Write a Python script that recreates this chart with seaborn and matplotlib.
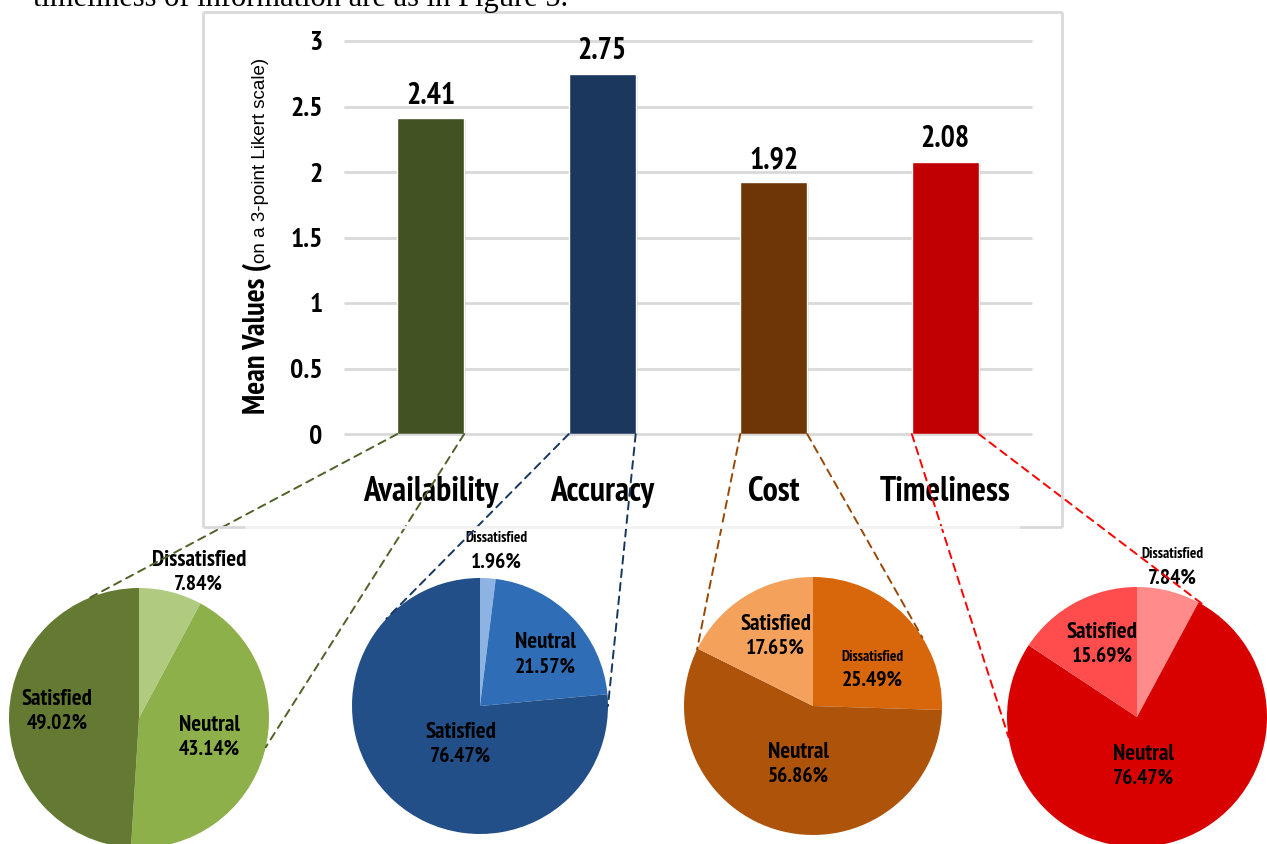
import matplotlib
matplotlib.use("Agg")
import numpy as np
import pandas as pd
import seaborn as sns
import matplotlib.pyplot as plt
import matplotlib.patheffects as pe
from matplotlib import font_manager
from matplotlib.font_manager import FontProperties
from matplotlib.lines import Line2D
from matplotlib.patches import ConnectionPatch

# ---- data -----------------------------------------------------------------
categories = ["Availability", "Accuracy", "Cost", "Timeliness"]
mean_values = [2.41, 2.75, 1.92, 2.08]
y_ticks = [0, 0.5, 1, 1.5, 2, 2.5, 3]
y_tick_labels = ["0", "0.5", "1", "1.5", "2", "2.5", "3"]

levels = ["Dissatisfied", "Neutral", "Satisfied"]
availability_pct = [7.84, 43.14, 49.02]
accuracy_pct = [1.96, 21.57, 76.47]
cost_pct = [25.49, 56.86, 17.65]
timeliness_pct = [7.84, 76.47, 15.69]

# ---- styling --------------------------------------------------------------
bar_colors = ["#435223", "#1B375E", "#6E3507", "#C00000"]
leader_colors = ["#4F6228", "#17375E", "#974806", "#FF0000"]
pie_colors = [
    ["#B0CB80", "#8DB04B", "#647A33"],
    ["#8DB3E2", "#2F6EB6", "#224F88"],
    ["#D8670C", "#AE530A", "#F4A25B"],
    ["#FF8B8B", "#D90000", "#FF4C4C"],
]

sns.set_theme(style="white")
plt.rcParams["font.family"] = ["Liberation Sans", "DejaVu Sans"]
plt.rcParams["text.color"] = "black"
plt.rcParams["xtick.color"] = "black"
plt.rcParams["ytick.color"] = "black"


def _find_narrow_bold():
    """Pick an installed bold, upright, condensed sans face if there is one."""
    best, best_score = None, None
    for f in font_manager.fontManager.ttflist:
        path = f.fname.lower()
        name = f.name.lower()
        if "mono" in name or "serif" in name.replace("sans serif", ""):
            continue
        w = f.weight
        bold = (isinstance(w, (int, float)) and 600 <= w <= 800) or \
               (isinstance(w, str) and w.lower() in ("bold", "demibold", "semibold"))
        if not bold or str(f.style).lower() != "normal":
            continue
        tag = path + " " + name + " " + str(f.stretch).lower()
        if not any(k in tag for k in ("narrow", "condensed", "cond")):
            continue
        score = 0
        if "narrow" in tag:
            score += 5
        if "semicondensed" in tag or "semi" in tag:
            score -= 2
        if "extracondensed" in tag or "extra" in tag or "ultra" in tag:
            score -= 3
        if isinstance(w, (int, float)) and w == 700:
            score += 1
        if best_score is None or score > best_score:
            best, best_score = f.fname, score
    return best


_narrow_path = _find_narrow_bold()
if _narrow_path:
    def nfp(size):
        return FontProperties(fname=_narrow_path, size=size)
else:
    def nfp(size):
        return FontProperties(family="Roboto", weight="bold", size=size * 0.85)


W, H = 1267, 844
fig = plt.figure(figsize=(W / 100, H / 100), dpi=100)
fig.patch.set_facecolor("white")


def fx(px):
    return px / W


def fy(py):
    return 1 - py / H


# running text above the figure
fig.text(fx(33), fy(6), "timeliness of information are as in Figure 5.",
         family="Liberation Serif", fontsize=22, color="black",
         ha="left", va="baseline")

# ---- chart frame ----------------------------------------------------------
frame_c = "#D9D9D9"
for (x0, y0, x1, y1, c) in [
    (203, 12, 1062, 12, frame_c),
    (203, 12, 203, 527, frame_c),
    (1062, 12, 1062, 527, frame_c),
    (203, 527, 245, 527, frame_c),
    (1019, 527, 1062, 527, frame_c),
    (245, 527, 1019, 527, "#F2F2F2"),
]:
    fig.add_artist(Line2D([fx(x0), fx(x1)], [fy(y0), fy(y1)],
                          transform=fig.transFigure, color=c, lw=2,
                          solid_capstyle="butt"))

# ---- bar chart ------------------------------------------------------------
ax = fig.add_axes([fx(345), fy(434), fx(1031) - fx(345), fy(41) - fy(434)])
df = pd.DataFrame({"category": categories, "mean": mean_values})
sns.barplot(data=df, x="category", y="mean", hue="category",
            palette=bar_colors, legend=False, width=0.39, saturation=1,
            errorbar=None, ax=ax)
ax.set_xlim(-0.5, 3.5)
ax.set_ylim(0, 3)
ax.set_yticks(y_ticks)
ax.set_yticklabels(y_tick_labels)
ax.yaxis.grid(True, color="#D9D9D9", linewidth=2)
for gl in ax.get_ygridlines():
    gl.set_clip_on(False)
ax.set_axisbelow(True)
for s in ax.spines.values():
    s.set_visible(False)
ax.set_xlabel("")
ax.set_ylabel("")
ax.tick_params(axis="x", length=0, pad=30)
ax.tick_params(axis="y", length=0, pad=16)
for lab in ax.get_xticklabels():
    lab.set_fontproperties(nfp(24.5))
for lab in ax.get_yticklabels():
    lab.set_fontproperties(nfp(20))

for patch in ax.patches:
    patch.set_path_effects([
        pe.SimplePatchShadow(offset=(1.5, -1.5), shadow_rgbFace="#7F7F7F", alpha=0.2),
        pe.Normal(),
    ])
for cont in ax.containers:
    ax.bar_label(cont, fmt="%.2f", padding=6, fontproperties=nfp(21.5))

# y-axis title: bold lead-in followed by a lighter note
yl_x, yl_y = fx(265), fy(414)
t1 = fig.text(yl_x, yl_y, "Mean Values (", rotation=90, rotation_mode="anchor",
              ha="left", va="baseline", fontproperties=nfp(22))
fig.canvas.draw()
ext = t1.get_window_extent(renderer=fig.canvas.get_renderer())
fig.text(yl_x, yl_y + ext.height / H, "on a 3-point Likert scale)", rotation=90,
         rotation_mode="anchor", ha="left", va="baseline", fontsize=13.5,
         family="Liberation Sans")

# ---- breakdown pies -------------------------------------------------------
pie_data = [availability_pct, accuracy_pct, cost_pct, timeliness_pct]
pie_geom = [(139, 718, 130), (480, 706, 128), (813, 706, 129), (1137, 717, 130)]
# label placement (x, y, word size) per slice, in pie units
label_pos = [
    [(0.46, 1.12, 16.5), (0.54, -0.15, 16.5), (-0.63, 0.05, 16.5)],
    [(0.125, 1.22, 11), (0.51, 0.40, 16.5), (-0.15, -0.30, 16.5)],
    [(0.46, 0.29, 11), (-0.11, -0.45, 16.5), (-0.29, 0.54, 16.5)],
    [(0.27, 1.16, 11), (0.05, -0.38, 16.5), (-0.27, 0.56, 16.5)],
]
value_size = 15.5
leader_angles = [(112, -13), (137, 0), (154, 32), (189, 58)]

pie_axes = []
for i, (vals, cols, (cx, cy, r)) in enumerate(zip(pie_data, pie_colors, pie_geom)):
    pax = fig.add_axes([fx(cx - r), fy(cy + r), 2 * r / W, 2 * r / H])
    pax.pie(vals, colors=cols, startangle=90, counterclock=False, radius=1,
            wedgeprops=dict(linewidth=0))
    pax.set_xlim(-1, 1)
    pax.set_ylim(-1, 1)
    pax.set_aspect("equal")
    pax.axis("off")
    for lev, v, (lx, ly, ws) in zip(levels, vals, label_pos[i]):
        dy = 12 / r
        pax.text(lx, ly + dy, lev, ha="center", va="center",
                 fontproperties=nfp(ws), color="black", clip_on=False)
        pax.text(lx, ly - dy, f"{v:.2f}%", ha="center", va="center",
                 fontproperties=nfp(value_size), color="black", clip_on=False)
    pie_axes.append(pax)

# dashed leaders from the foot of each bar to its pie
for i, patch in enumerate(ax.patches[:4]):
    x0 = patch.get_x()
    x1 = x0 + patch.get_width()
    pax = pie_axes[i]
    for xb, ang in zip((x0, x1), leader_angles[i]):
        a = np.deg2rad(ang)
        con = ConnectionPatch(xyA=(xb, 0), coordsA=ax.transData,
                              xyB=(np.cos(a), np.sin(a)), coordsB=pax.transData,
                              color=leader_colors[i], lw=1.4,
                              linestyle=(0, (4, 3)))
        fig.add_artist(con)

fig.savefig("out.png", dpi=100, facecolor="white")
